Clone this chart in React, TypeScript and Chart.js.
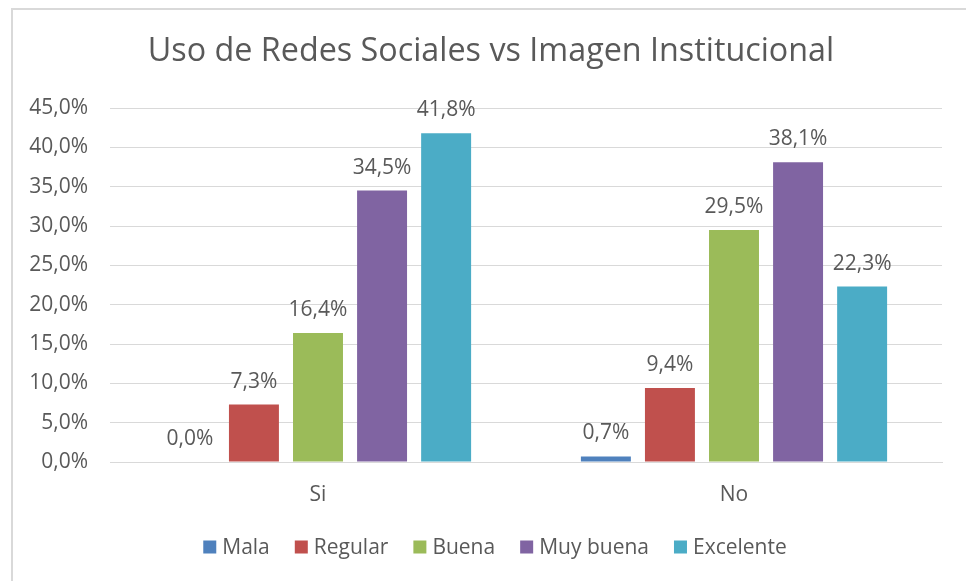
import React, { useEffect, useRef } from "react";
import { Chart, registerables } from "chart.js";

Chart.register(...registerables);

const categories = ["Si", "No"];
const seriesNames = ["Mala", "Regular", "Buena", "Muy buena", "Excelente"];
const mala = [0.0, 0.7];
const regular = [7.3, 9.4];
const buena = [16.4, 29.5];
const muyBuena = [34.5, 38.1];
const excelente = [41.8, 22.3];
const colors = ["#4F81BD", "#C0504D", "#9BBB59", "#8064A2", "#4BACC6"];
const titleText = "Uso de Redes Sociales vs Imagen Institucional";

const FONT = "'Open Sans', sans-serif";
const TEXT = "#595959";
const GRID = "#d9d9d9";

const fmt = (v: number) => v.toFixed(1).replace(".", ",") + "%";

const customDraw = {
  id: "customDraw",
  afterDatasetsDraw(chart: any) {
    const ctx = chart.ctx;
    ctx.save();
    // data labels
    ctx.font = `21px ${FONT}`;
    ctx.fillStyle = TEXT;
    ctx.textAlign = "center";
    ctx.textBaseline = "alphabetic";
    chart.data.datasets.forEach((ds: any, i: number) => {
      const meta = chart.getDatasetMeta(i);
      meta.data.forEach((el: any, j: number) => {
        ctx.fillText(fmt(ds.data[j]), el.x, el.y - 17);
      });
    });
    // title
    ctx.font = `32.3px ${FONT}`;
    ctx.textBaseline = "middle";
    ctx.fillText(titleText, 491, 52);
    // legend
    ctx.font = `21px ${FONT}`;
    const box = 13, gapText = 6, gapItem = 25;
    const widths = chart.data.datasets.map((ds: any) => box + gapText + ctx.measureText(ds.label).width);
    const total = widths.reduce((a: number, b: number) => a + b, 0) + gapItem * (widths.length - 1);
    let x = 495 - total / 2;
    const cy = 547;
    ctx.textAlign = "left";
    chart.data.datasets.forEach((ds: any, i: number) => {
      ctx.fillStyle = ds.backgroundColor;
      ctx.fillRect(x, cy - box / 2, box, box);
      ctx.fillStyle = TEXT;
      ctx.fillText(ds.label, x + box + gapText, cy + 1);
      x += widths[i] + gapItem;
    });
    ctx.restore();
  },
};

export default function App() {
  const ref = useRef<HTMLCanvasElement>(null);
  useEffect(() => {
    if (!ref.current) return;
    const seriesData = [mala, regular, buena, muyBuena, excelente];
    const chart = new Chart(ref.current, {
      type: "bar",
      data: {
        labels: categories,
        datasets: seriesNames.map((name, i) => ({
          label: name,
          data: seriesData[i],
          backgroundColor: colors[i],
          borderWidth: 0,
          categoryPercentage: 0.77,
          barPercentage: 0.78,
        })),
      },
      options: {
        animation: false,
        responsive: false,
        devicePixelRatio: 1,
        layout: { padding: { top: 108, left: 11, right: 24, bottom: 79 } },
        plugins: {
          legend: { display: false },
          title: { display: false },
          tooltip: { enabled: false },
        },
        scales: {
          x: {
            grid: { display: false, drawTicks: false },
            border: { display: true, color: GRID, width: 1 },
            ticks: { color: TEXT, font: { family: FONT, size: 21 }, padding: 20 },
            afterFit: (s: any) => { s.height = 40; },
          },
          y: {
            min: 0,
            max: 45,
            ticks: {
              stepSize: 5,
              color: TEXT,
              font: { family: FONT, size: 21 },
              padding: 22,
              callback: (v: any) => fmt(Number(v)),
            },
            grid: { color: GRID, lineWidth: 1, drawTicks: false },
            border: { display: false },
            afterFit: (s: any) => { s.width = 99; },
          },
        },
      },
      plugins: [customDraw],
    });
    return () => chart.destroy();
  }, []);
  return (
    <div style={{ position: "fixed", left: 0, top: 0, width: 966, height: 581, overflow: "hidden", background: "#fff" }}>
      <div style={{ position: "absolute", left: 11, top: 8, width: 1000, height: 700, border: `2px solid ${GRID}`, boxSizing: "border-box" }} />
      <canvas ref={ref} width={966} height={581} style={{ position: "absolute", left: 0, top: 0, width: 966, height: 581 }} />
    </div>
  );
}
